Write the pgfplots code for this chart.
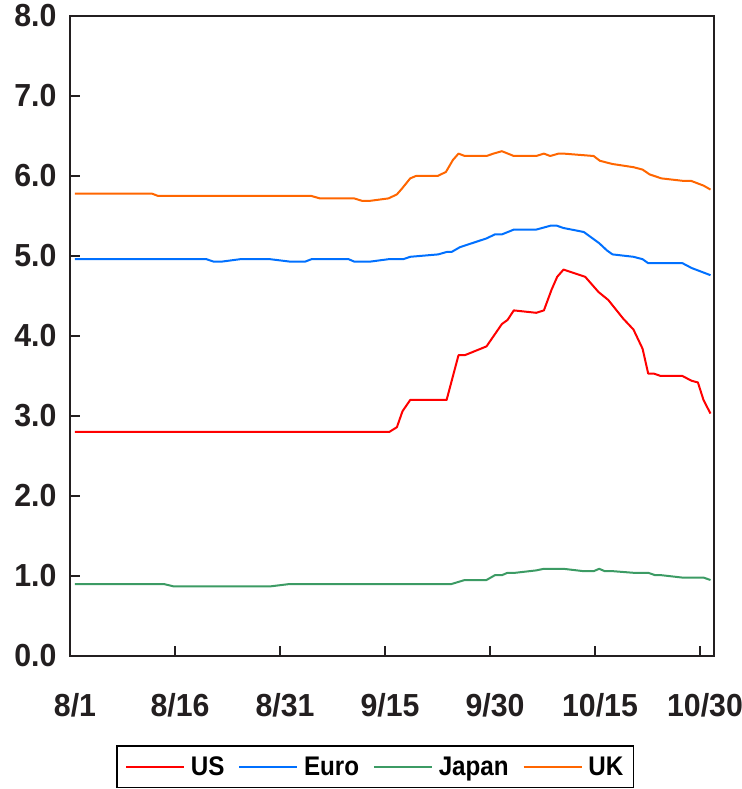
\documentclass[border=0pt]{standalone}
\usepackage{pgfplots}
\pgfplotsset{compat=1.18}
\usepackage{fontspec}
\setmainfont{Liberation Sans}
\newfontfamily\tickfont[FakeStretch=0.95]{Liberation Sans}
\newfontfamily\legfont[FakeStretch=0.9]{Liberation Sans}
\definecolor{usred}{RGB}{255,0,0}
\definecolor{eurob}{RGB}{0,112,255}
\definecolor{japg}{RGB}{60,155,100}
\definecolor{ukor}{RGB}{255,102,0}
\definecolor{axc}{RGB}{35,31,32}
\begin{document}
\begin{tikzpicture}
\begin{axis}[name=ax, scale only axis, width=644bp, height=640bp,
  xmin=0, xmax=92, ymin=0, ymax=8,
  axis line style={line width=2bp, color=axc},
  xtick={0,15,30,45,60,75,90},
  xticklabels={8/1,8/16,8/31,9/15,9/30,10/15,10/30},
  ytick={0,1,2,3,4,5,6,7,8},
  yticklabel style={/pgf/number format/fixed, /pgf/number format/fixed zerofill, /pgf/number format/precision=1},
  /pgf/number format/assume math mode=true,
  tick align=inside, xtick pos=bottom, ytick pos=left,
  major tick length=10bp, tick style={line width=2bp, color=axc},
  ticklabel style={font=\tickfont\fontsize{32}{34}\selectfont\bfseries, text=axc},
  yticklabel style={xshift=-10bp},
  xticklabel style={yshift=-34bp, xshift=5bp},
  legend style={at={(0.474,-0.173)}, anchor=center, legend columns=4, draw=black, line width=1.5bp,
    font=\legfont\fontsize{27}{29}\selectfont\bfseries, inner xsep=8bp, inner ysep=8.5bp,
    /tikz/every even column/.append style={column sep=12bp},
    /tikz/every odd column/.append style={column sep=4bp}},
  legend image code/.code={\draw[#1, line width=1.6bp] (0bp,0bp) -- (58bp,0bp);},
  every axis plot/.append style={line width=2bp, line join=round},
]
\addplot[usred] table {
0.7 2.80
45.6 2.80
46.7 2.86
47.5 3.06
48.6 3.20
53.8 3.20
55.5 3.76
56.4 3.76
59.5 3.87
61.7 4.15
62.5 4.20
63.4 4.32
66.6 4.29
67.7 4.32
68.8 4.58
69.6 4.74
70.5 4.83
73.6 4.74
75.5 4.55
76.9 4.45
79.0 4.22
80.5 4.08
81.8 3.84
82.6 3.53
83.4 3.53
84.4 3.50
87.5 3.50
88.8 3.44
89.7 3.42
90.5 3.20
91.5 3.03
};
\addlegendentry{US}
\addplot[eurob] table {
0.7 4.96
19.5 4.96
20.5 4.93
21.7 4.93
24.3 4.96
28.6 4.96
31.4 4.93
33.6 4.93
34.5 4.96
39.8 4.96
40.6 4.93
42.9 4.93
45.5 4.96
47.6 4.96
48.6 4.99
52.6 5.02
53.8 5.05
54.5 5.05
55.7 5.11
59.5 5.22
60.7 5.27
61.7 5.27
63.4 5.33
66.6 5.33
68.7 5.38
69.5 5.38
70.5 5.35
73.4 5.30
75.6 5.16
76.7 5.07
77.5 5.02
80.5 4.99
81.8 4.96
82.6 4.91
87.5 4.91
88.8 4.85
91.5 4.76
};
\addlegendentry{Euro}
\addplot[japg] table {
0.7 0.90
13.4 0.90
14.8 0.87
28.6 0.87
31.4 0.90
54.5 0.90
56.4 0.95
59.5 0.95
60.7 1.01
61.7 1.01
62.5 1.04
63.6 1.04
66.6 1.07
67.7 1.09
70.5 1.09
73.4 1.06
74.8 1.06
75.6 1.09
76.4 1.06
77.6 1.06
80.5 1.04
82.6 1.04
83.6 1.01
84.5 1.01
87.5 0.98
90.5 0.98
91.5 0.95
};
\addlegendentry{Japan}
\addplot[ukor] table {
0.7 5.78
11.7 5.78
12.6 5.75
34.5 5.75
35.7 5.72
40.6 5.72
41.7 5.69
42.9 5.69
45.5 5.72
46.7 5.77
47.4 5.84
48.6 5.97
49.4 6.00
52.5 6.00
53.7 6.05
54.7 6.20
55.5 6.28
56.4 6.25
59.5 6.25
60.5 6.28
61.7 6.31
63.4 6.25
66.6 6.25
67.7 6.28
68.6 6.25
69.8 6.28
70.5 6.28
74.8 6.25
75.7 6.19
77.5 6.15
80.5 6.11
81.8 6.08
82.8 6.02
84.5 5.97
87.5 5.94
88.7 5.94
90.5 5.88
91.5 5.83
};
\addlegendentry{UK}
\end{axis}
\pgfresetboundingbox
\path ([xshift=-70bp,yshift=-133bp]ax.south west) rectangle ++(742bp,789bp);
\end{tikzpicture}
\end{document}
